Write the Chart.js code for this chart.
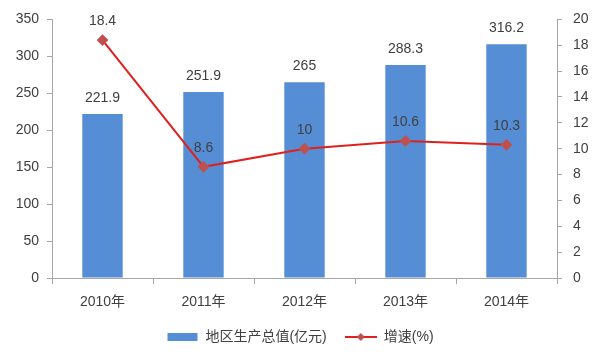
<!DOCTYPE html>
<html>
<head>
<meta charset="utf-8">
<script src="https://cdn.jsdelivr.net/npm/chart.js@4/dist/chart.umd.min.js"></script>
<style>
  html, body { margin: 0; padding: 0; background: #fff; }
  #wrap { width: 600px; height: 360px; }
</style>
</head>
<body>
<div id="wrap"><canvas id="grafico"></canvas></div>
<script>
// dados
const anos = ['2010年', '2011年', '2012年', '2013年', '2014年'];
const gdp = [221.9, 251.9, 265, 288.3, 316.2];
const crescimento = [18.4, 8.6, 10, 10.6, 10.3];
const nomeBarras = '地区生产总值(亿元)';
const nomeLinha = '增速(%)';

const fonte = "'Liberation Sans', 'Noto Sans CJK SC', sans-serif";
const corBarra = '#558ed5';
const corLinha = '#e0201f';
const corMarcador = '#c0504d';
const corEixo = '#a6a6a6';
const corTexto = '#404040';

// ícones da legenda
function iconeBarra() {
    const c = document.createElement('canvas');
    c.width = 32; c.height = 10;
    const g = c.getContext('2d');
    g.fillStyle = corBarra;
    g.fillRect(1, 1, 30, 8);
    return c;
}

function iconeLinha() {
    const c = document.createElement('canvas');
    c.width = 32; c.height = 10;
    const g = c.getContext('2d');
    g.strokeStyle = corLinha;
    g.lineWidth = 2;
    g.beginPath();
    g.moveTo(0, 5); g.lineTo(32, 5);
    g.stroke();
    g.fillStyle = corMarcador;
    g.beginPath();
    g.moveTo(16, 1); g.lineTo(20, 5); g.lineTo(16, 9); g.lineTo(12, 5);
    g.closePath();
    g.fill();
    return c;
}

const rotulos = {
    id: 'rotulos',
    afterDatasetsDraw(chart) {
        const ctx = chart.ctx;
        ctx.save();
        ctx.font = '14px ' + fonte;
        ctx.fillStyle = corTexto;
        ctx.textAlign = 'center';
        ctx.textBaseline = 'middle';
        chart.data.datasets.forEach((ds, i) => {
            const meta = chart.getDatasetMeta(i);
            const desloc = ds.type === 'line' ? 19 : 16;
            meta.data.forEach((el, j) => {
                ctx.fillText(String(ds.data[j]), el.x, el.y - desloc);
            });
        });
        ctx.restore();
    }
};

const ctx = document.getElementById('grafico').getContext('2d');
new Chart(ctx, {
    data: {
        labels: anos,
        datasets: [{
            type: 'line',
            label: nomeLinha,
            data: crescimento,
            yAxisID: 'y1',
            borderColor: corLinha,
            borderWidth: 2,
            pointStyle: 'rectRot',
            pointRadius: 4.5,
            pointBackgroundColor: corMarcador,
            pointBorderColor: corMarcador,
            tension: 0,
            order: 0
        }, {
            type: 'bar',
            label: nomeBarras,
            data: gdp,
            yAxisID: 'y',
            backgroundColor: corBarra,
            barPercentage: 0.4,
            categoryPercentage: 1,
            order: 1
        }]
    },
    options: {
        responsive: true,
        maintainAspectRatio: false,
        animation: false,
        layout: { padding: { top: 16, right: 0, left: 0, bottom: 6 } },
        plugins: {
            tooltip: { enabled: false },
            legend: {
                position: 'bottom',
                reverse: true,
                labels: {
                    usePointStyle: true,
                    pointStyleWidth: 32,
                    boxHeight: 10,
                    padding: 18,
                    color: corTexto,
                    font: { family: fonte, size: 14 },
                    generateLabels(chart) {
                        const itens = Chart.defaults.plugins.legend.labels.generateLabels(chart);
                        itens.forEach(it => {
                            it.pointStyle = it.datasetIndex === 0 ? iconeLinha() : iconeBarra();
                        });
                        return itens;
                    }
                }
            }
        },
        scales: {
            x: {
                offset: true,
                grid: { drawOnChartArea: false, offset: true, color: corEixo, tickLength: 6 },
                border: { color: corEixo },
                ticks: { color: corTexto, font: { family: fonte, size: 14 }, padding: 10 },
                afterFit(scale) { scale.height = 34; }
            },
            y: {
                position: 'left',
                min: 0, max: 350,
                ticks: { stepSize: 50, color: corTexto, font: { family: fonte, size: 14 }, padding: 8 },
                grid: { drawOnChartArea: false, color: corEixo, tickLength: 5 },
                border: { color: corEixo },
                afterFit(scale) { scale.width = 52; }
            },
            y1: {
                position: 'right',
                min: 0, max: 20,
                ticks: { stepSize: 2, color: corTexto, font: { family: fonte, size: 14 }, padding: 11 },
                grid: { drawOnChartArea: false, color: corEixo, tickLength: 5 },
                border: { color: corEixo },
                afterFit(scale) { scale.width = 43; }
            }
        }
    },
    plugins: [rotulos]
});
</script>
</body>
</html>
